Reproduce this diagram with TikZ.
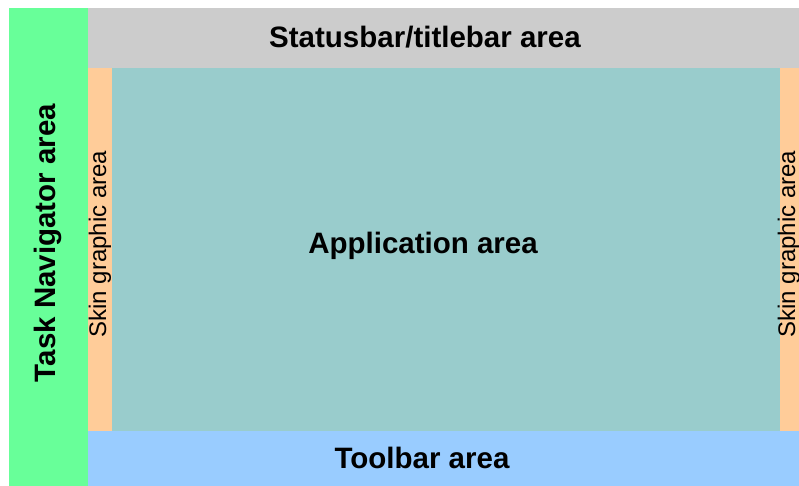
\documentclass[tikz,border=0pt]{standalone}
\usepackage{fontspec}
\setmainfont{Liberation Sans}
\definecolor{navgreen}{RGB}{104,255,153}
\definecolor{statgray}{RGB}{204,204,204}
\definecolor{skinorange}{RGB}{255,204,153}
\definecolor{appteal}{RGB}{153,204,204}
\definecolor{toolblue}{RGB}{153,204,255}
\begin{document}
\begin{tikzpicture}[x=1bp,y=-1bp,
  bigtext/.style={inner sep=0pt, font=\fontsize{29.5bp}{32bp}\selectfont\bfseries},
  skintext/.style={inner sep=0pt, font=\fontsize{24bp}{27bp}\selectfont, rotate=90}]
  % page
  \fill[white] (0,0) rectangle (799,486);
  \useasboundingbox (0,0) rectangle (799,486);
  % areas
  \fill[navgreen]   (9,8)    rectangle (88,486);
  \fill[statgray]   (88,8)   rectangle (799,68);
  \fill[skinorange] (88,68)  rectangle (112,431);
  \fill[appteal]    (112,68) rectangle (780,431);
  \fill[skinorange] (780,68) rectangle (799,431);
  \fill[toolblue]   (88,431) rectangle (799,486);
  % labels
  \node[bigtext] (status) at (425,37) {Statusbar/titlebar area};
  \node[bigtext] (app) at (423,246) {Application area};
  \node[bigtext] (tool) at (422,458) {Toolbar area};
  \node[bigtext, rotate=90] (nav) at (48,243) {Task Navigator area};
  \node[skintext] (skinl) at (100,244) {Skin graphic area};
  \node[skintext] (skinr) at (789,244) {Skin graphic area};
\end{tikzpicture}
\end{document}
